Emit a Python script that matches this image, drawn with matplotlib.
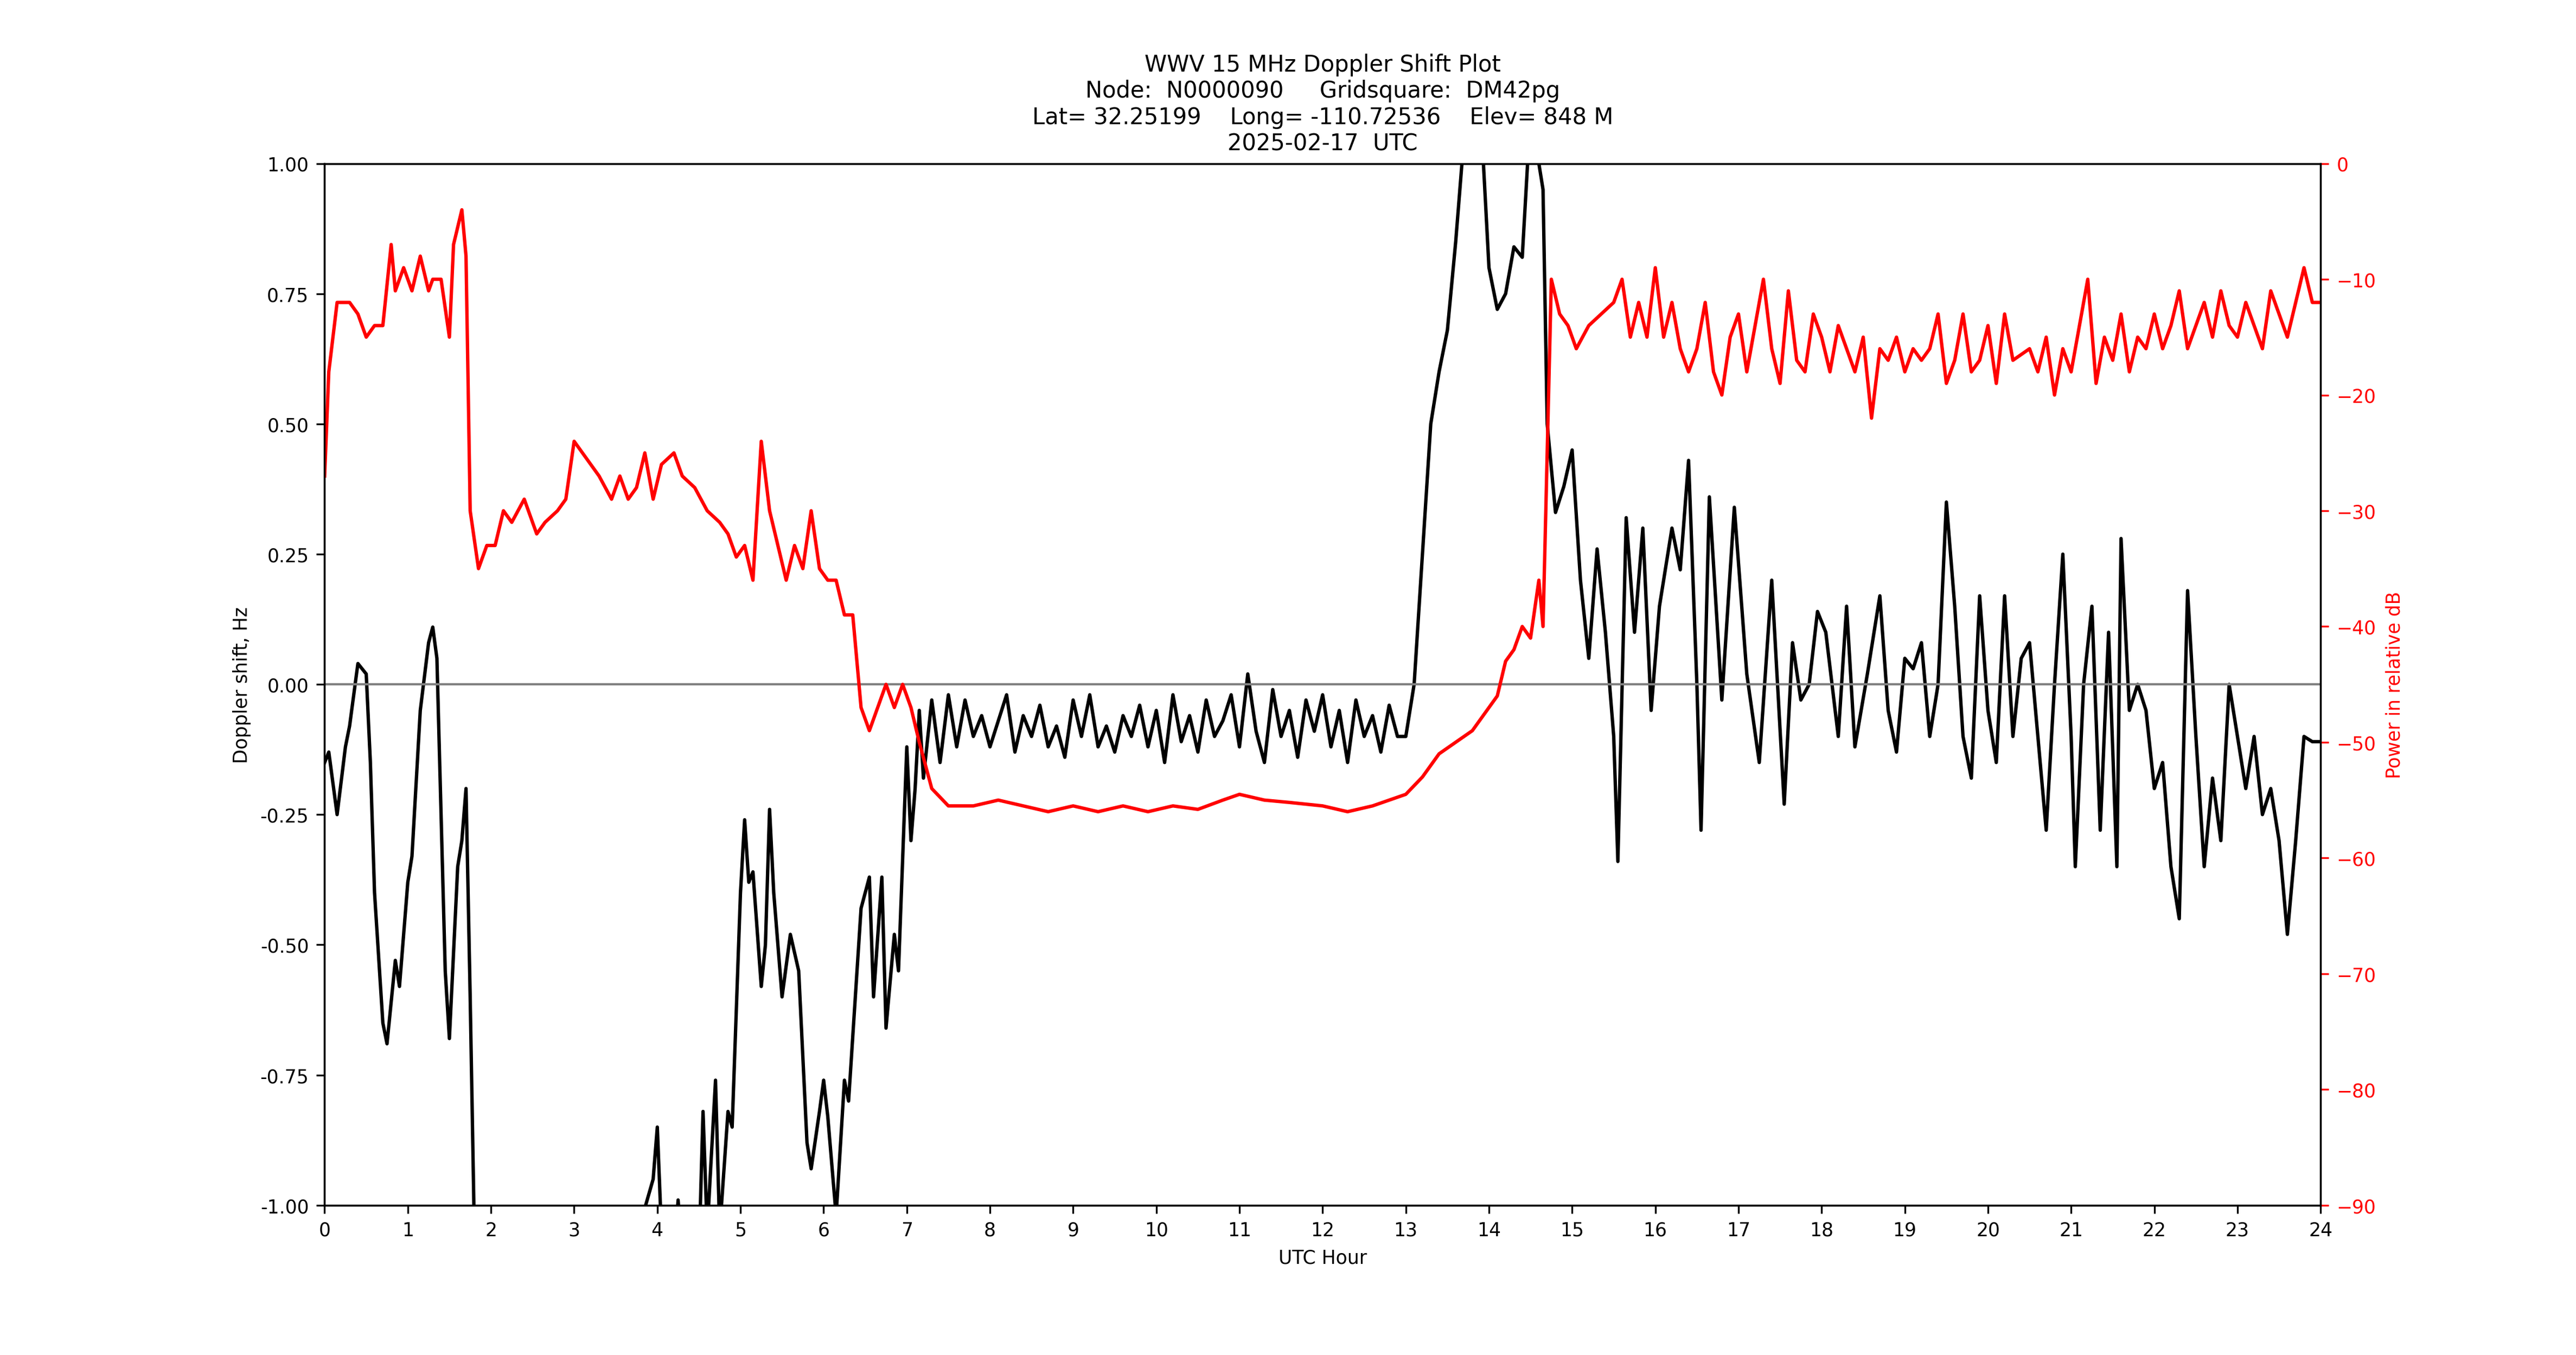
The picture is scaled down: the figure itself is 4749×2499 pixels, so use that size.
import matplotlib
matplotlib.use("Agg")
import matplotlib.pyplot as plt
import numpy as np

plt.rcParams['font.size'] = 8.3

dop_t = [0,0.05,0.15,0.25,0.3,0.4,0.5,0.55,0.6,0.7,0.75,0.85,0.9,1.0,1.05,1.15,1.25,1.3,1.35,1.45,1.5,1.6,1.65,1.7,1.75,1.8,
         2.5,3.5,3.95,4.0,4.05,4.2,4.25,4.3,4.5,4.55,4.6,4.7,4.75,4.85,4.9,5.0,5.05,5.1,5.15,5.25,5.3,5.35,5.4,5.5,5.6,5.7,5.8,5.85,
         5.95,6.0,6.05,6.15,6.25,6.3,6.45,6.5,6.55,6.6,6.7,6.75,6.85,6.9,7.0,7.05,7.1,7.15,7.2,
         7.3,7.4,7.5,7.6,7.7,7.8,7.9,8.0,8.1,8.2,8.3,8.4,8.5,8.6,8.7,8.8,8.9,9.0,9.1,9.2,9.3,9.4,9.5,9.6,9.7,9.8,9.9,
         10.0,10.1,10.2,10.3,10.4,10.5,10.6,10.7,10.8,10.9,11.0,11.1,11.2,11.3,11.4,11.5,11.6,11.7,11.8,11.9,
         12.0,12.1,12.2,12.3,12.4,12.5,12.6,12.7,12.8,12.9,
         13.0,13.1,13.2,13.3,13.4,13.5,13.6,13.7,13.9,14.0,14.1,14.2,14.3,14.4,14.5,14.65,14.7,14.8,14.9,15.0,15.1,15.2,15.3,15.4,15.5,15.55,
         15.65,15.75,15.85,15.95,16.05,16.2,16.3,16.4,16.5,16.55,16.65,16.8,16.95,17.1,17.25,17.4,17.55,17.65,17.75,17.85,17.95,18.05,
         18.2,18.3,18.4,18.55,18.7,18.8,18.9,19.0,19.1,19.2,19.3,19.4,19.5,19.6,19.7,19.8,19.9,20.0,20.1,20.2,20.3,20.4,20.5,20.6,20.7,
         20.8,20.9,21.0,21.05,21.15,21.25,21.35,21.45,21.55,21.6,21.7,21.8,21.9,22.0,22.1,22.2,22.3,22.4,22.5,22.6,22.7,22.8,22.9,
         23.0,23.1,23.2,23.3,23.4,23.5,23.6,23.7,23.8,23.9,24.0]
dop_v = [-0.15,-0.13,-0.25,-0.12,-0.08,0.04,0.02,-0.15,-0.4,-0.65,-0.69,-0.53,-0.58,-0.38,-0.33,-0.05,0.08,0.11,0.05,-0.55,-0.68,-0.35,-0.3,-0.2,-0.6,-1.05,
         -1.2,-1.2,-0.95,-0.85,-1.05,-1.1,-0.99,-1.1,-1.1,-0.82,-1.05,-0.76,-1.05,-0.82,-0.85,-0.4,-0.26,-0.38,-0.36,-0.58,-0.5,-0.24,-0.4,-0.6,-0.48,-0.55,-0.88,-0.93,
         -0.82,-0.76,-0.83,-1.02,-0.76,-0.8,-0.43,-0.4,-0.37,-0.6,-0.37,-0.66,-0.48,-0.55,-0.12,-0.3,-0.2,-0.05,-0.18,
         -0.03,-0.15,-0.02,-0.12,-0.03,-0.1,-0.06,-0.12,-0.07,-0.02,-0.13,-0.06,-0.1,-0.04,-0.12,-0.08,-0.14,-0.03,-0.1,-0.02,-0.12,-0.08,-0.13,-0.06,-0.1,-0.04,-0.12,
         -0.05,-0.15,-0.02,-0.11,-0.06,-0.13,-0.03,-0.1,-0.07,-0.02,-0.12,0.02,-0.09,-0.15,-0.01,-0.1,-0.05,-0.14,-0.03,-0.09,
         -0.02,-0.12,-0.05,-0.15,-0.03,-0.1,-0.06,-0.13,-0.04,-0.1,
         -0.1,0.0,0.25,0.5,0.6,0.68,0.85,1.05,1.1,0.8,0.72,0.75,0.84,0.82,1.1,0.95,0.5,0.33,0.38,0.45,0.2,0.05,0.26,0.1,-0.1,-0.34,
         0.32,0.1,0.3,-0.05,0.15,0.3,0.22,0.43,0.0,-0.28,0.36,-0.03,0.34,0.02,-0.15,0.2,-0.23,0.08,-0.03,0.0,0.14,0.1,
         -0.1,0.15,-0.12,0.02,0.17,-0.05,-0.13,0.05,0.03,0.08,-0.1,0.0,0.35,0.15,-0.1,-0.18,0.17,-0.05,-0.15,0.17,-0.1,0.05,0.08,-0.1,-0.28,
         0.0,0.25,-0.1,-0.35,0.0,0.15,-0.28,0.1,-0.35,0.28,-0.05,0.0,-0.05,-0.2,-0.15,-0.35,-0.45,0.18,-0.1,-0.35,-0.18,-0.3,0.0,
         -0.1,-0.2,-0.1,-0.25,-0.2,-0.3,-0.48,-0.3,-0.1,-0.11,-0.11]

pow_t = [0,0.05,0.1,0.15,0.3,0.4,0.5,0.6,0.7,0.8,0.85,0.95,1.05,1.15,1.25,1.3,1.4,1.5,1.55,1.65,1.7,1.75,1.85,1.95,2.05,2.15,2.25,2.4,2.55,2.65,
         2.8,2.9,3.0,3.1,3.2,3.3,3.45,3.55,3.65,3.75,3.85,3.95,4.05,4.2,4.3,4.45,4.6,4.75,4.85,4.95,5.05,5.15,5.25,5.35,5.45,5.55,5.65,5.75,5.85,
         5.95,6.05,6.15,6.25,6.35,6.45,6.55,6.65,6.75,6.85,6.95,7.05,7.15,7.3,7.5,7.8,8.1,8.4,8.7,9.0,9.3,9.6,9.9,10.2,10.5,10.8,11.0,11.3,11.6,
         12.0,12.3,12.6,12.8,13.0,13.2,13.4,13.6,13.8,13.9,14.0,14.1,14.2,14.3,14.4,14.5,14.6,14.65,14.7,14.75,14.85,14.95,15.05,15.2,15.35,15.5,
         15.6,15.7,15.8,15.9,16.0,16.1,16.2,16.3,16.4,16.5,16.6,16.7,16.8,16.9,17.0,17.1,17.2,17.3,17.4,17.5,17.6,17.7,17.8,17.9,18.0,18.1,18.2,
         18.3,18.4,18.5,18.6,18.7,18.8,18.9,19.0,19.1,19.2,19.3,19.4,19.5,19.6,19.7,19.8,19.9,20.0,20.1,20.2,20.3,20.5,20.6,20.7,20.8,20.9,21.0,
         21.1,21.2,21.3,21.4,21.5,21.6,21.7,21.8,21.9,22.0,22.1,22.2,22.3,22.4,22.5,22.6,22.7,22.8,22.9,23.0,23.1,23.2,23.3,23.4,23.5,23.6,23.7,
         23.8,23.9,24.0]
pow_v = [-27,-18,-15,-12,-12,-13,-15,-14,-14,-7,-11,-9,-11,-8,-11,-10,-10,-15,-7,-4,-8,-30,-35,-33,-33,-30,-31,-29,-32,-31,
         -30,-29,-24,-25,-26,-27,-29,-27,-29,-28,-25,-29,-26,-25,-27,-28,-30,-31,-32,-34,-33,-36,-24,-30,-33,-36,-33,-35,-30,
         -35,-36,-36,-39,-39,-47,-49,-47,-45,-47,-45,-47,-50,-54,-55.5,-55.5,-55,-55.5,-56,-55.5,-56,-55.5,-56,-55.5,-55.8,-55,-54.5,-55,-55.2,
         -55.5,-56,-55.5,-55,-54.5,-53,-51,-50,-49,-48,-47,-46,-43,-42,-40,-41,-36,-40,-25,-10,-13,-14,-16,-14,-13,-12,
         -10,-15,-12,-15,-9,-15,-12,-16,-18,-16,-12,-18,-20,-15,-13,-18,-14,-10,-16,-19,-11,-17,-18,-13,-15,-18,-14,
         -16,-18,-15,-22,-16,-17,-15,-18,-16,-17,-16,-13,-19,-17,-13,-18,-17,-14,-19,-13,-17,-16,-18,-15,-20,-16,-18,
         -14,-10,-19,-15,-17,-13,-18,-15,-16,-13,-16,-14,-11,-16,-14,-12,-15,-11,-14,-15,-12,-14,-16,-11,-13,-15,-12,
         -9,-12,-12]

xticks = list(range(0, 25))

fig = plt.figure(figsize=(15.833, 8.333), dpi=300)
ax = fig.add_axes([0.126, 0.1105, 0.7747, 0.7685])
ax.plot(dop_t, dop_v, color='black', lw=1.5)
ax.axhline(0, color='gray', lw=1)
ax.set_xlim(0, 24)
ax.set_ylim(-1, 1)
ax.set_xticks(xticks)
ax.set_yticks([-1, -0.75, -0.5, -0.25, 0, 0.25, 0.5, 0.75, 1])
ax.yaxis.set_major_formatter(matplotlib.ticker.FormatStrFormatter('%.2f'))
ax.set_xlabel('UTC Hour')
ax.set_ylabel('Doppler shift, Hz')
ax.set_title('WWV 15 MHz Doppler Shift Plot\nNode:  N0000090     Gridsquare:  DM42pg\n'
             'Lat= 32.25199    Long= -110.72536    Elev= 848 M\n2025-02-17  UTC', fontsize=10)
ax2 = ax.twinx()
ax2.plot(pow_t, pow_v, color='red', lw=1.5)
ax2.set_ylim(-90, 0)
ax2.set_yticks(range(-90, 1, 10))
ax2.tick_params(axis='y', colors='red')
ax2.set_ylabel('Power in relative dB', color='red')
fig.savefig('out.png')
